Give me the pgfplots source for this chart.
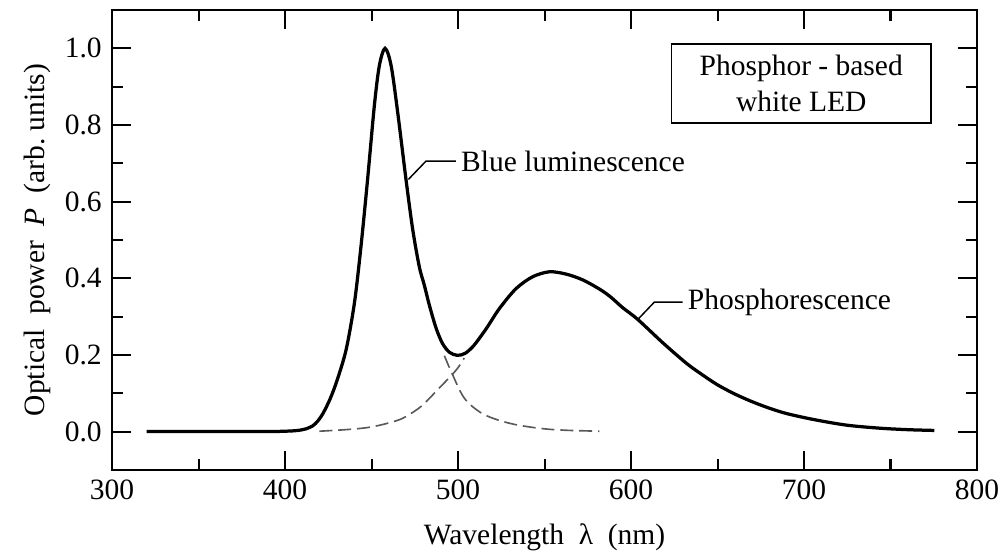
\documentclass[border=0pt]{standalone}
\usepackage{fontspec}
\setmainfont{Liberation Serif}
\usepackage{pgfplots}
\pgfplotsset{compat=1.18}

% spectrum of a phosphor-based white LED
\pgfplotstableread{
x y
320 0
360 0
390 0
400 0.001
405 0.002
409 0.004
412 0.007
416 0.015
419 0.028
422 0.048
426 0.085
430 0.133
435.3 0.214
440.1 0.336
443.9 0.484
447.7 0.658
451.6 0.850
454.5 0.955
457.8 1.000
461.3 0.955
465.1 0.833
469.9 0.658
473.8 0.527
477.6 0.430
480.5 0.382
483.4 0.330
487.3 0.270
491.0 0.230
495.0 0.207
499.5 0.199
504.0 0.204
509.0 0.224
516.2 0.268
523.9 0.321
533.5 0.373
543.1 0.404
552.8 0.417
562.4 0.411
572.0 0.396
581.7 0.372
588.0 0.352
595.0 0.324
603.8 0.293
618.3 0.232
631.8 0.179
640.0 0.152
650.0 0.122
660.0 0.098
670.0 0.078
680.0 0.061
690.0 0.047
705.0 0.032
724.3 0.017
743.5 0.009
760.0 0.005
775.3 0.003
}\spectrum

\pgfplotstableread{
x y
492.1 0.198
494.5 0.172
496.9 0.148
500.8 0.109
504.0 0.085
508.4 0.065
514.0 0.047
520.0 0.035
527.0 0.025
533.5 0.018
543.0 0.011
552.8 0.006
565.0 0.003
581.7 0.001
}\bluetail

\pgfplotstableread{
x y
419.8 0.001
435.0 0.005
446.8 0.010
456.0 0.018
466.1 0.031
472.0 0.045
477.6 0.062
482.0 0.080
487.3 0.105
492.0 0.127
496.9 0.150
500.5 0.170
503.6 0.192
}\phosrise

\begin{document}
\begin{tikzpicture}
\begin{axis}[
    scale only axis,
    width=293.2pt,
    height=155.9pt,
    xmin=300, xmax=800,
    ymin=-0.1, ymax=1.1,
    xtick={300,400,...,800},
    ytick={0,0.2,...,1.0},
    minor tick num=1,
    tick align=inside,
    major tick length=6.5pt,
    minor tick length=3.6pt,
    axis line style={line width=0.7pt},
    every tick/.style={black, line width=0.7pt},
    yticklabel style={/pgf/number format/.cd, fixed, fixed zerofill, precision=1},
    /pgf/number format/assume math mode=true,
    tick label style={font=\normalsize},
    xlabel={Wavelength\ \ λ\ \ (nm)},
    ylabel={Optical\ \ power\ \ \textit{P}\ \ (arb.\ units)},
    xlabel style={yshift=-1pt},
    ylabel style={yshift=-2pt},
    clip=false,
]
\addplot[black, line width=1.1pt, smooth] table {\spectrum};
\addplot[black!65, line width=0.55pt, dash pattern=on 4.4pt off 2pt, smooth] table {\bluetail};
\addplot[black!65, line width=0.55pt, dash pattern=on 4.4pt off 2pt, smooth] table {\phosrise};

\draw[line width=0.5pt] (axis cs:471.3,0.658) -- (axis cs:481.5,0.706) -- (axis cs:498.8,0.706);
\node[anchor=west, inner sep=0pt] at (axis cs:501.5,0.706) {Blue luminescence};

\draw[line width=0.5pt] (axis cs:603.8,0.292) -- (axis cs:613.5,0.338) -- (axis cs:629.8,0.338);
\node[anchor=west, inner sep=0pt] at (axis cs:632.5,0.338) {Phosphorescence};

\node[draw, line width=0.5pt, align=center, minimum width=88pt, minimum height=26.8pt,
      inner sep=1pt] at (axis cs:698.4,0.908) {Phosphor - based\\white LED};
\end{axis}
\pgfresetboundingbox
\path[use as bounding box] ([shift={(-38pt,-28.1pt)}]current axis.south west)
    rectangle ([shift={(9.15pt,3.4pt)}]current axis.north east);
\end{tikzpicture}
\end{document}
